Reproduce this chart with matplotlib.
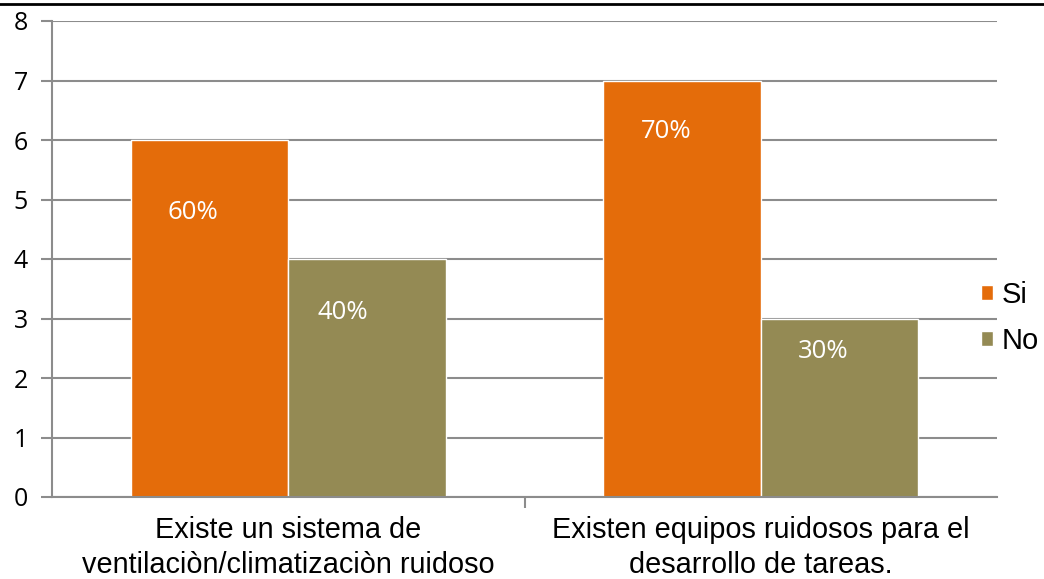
import matplotlib.pyplot as plt
from matplotlib.lines import Line2D
import numpy as np

categories = ['Existe un sistema de\nventilaciòn/climatizaciòn ruidoso',
              'Existen equipos ruidosos para el\ndesarrollo de tareas.']
si_values = [6, 7]
no_values = [4, 3]
si_labels = ['60%', '70%']
no_labels = ['40%', '30%']

# where the percentage labels sit (x offset from bar centre, y in data units)
si_label_dx = [-0.036, -0.033]
si_label_y = [4.78, 6.15]
no_label_dx = [-0.05, -0.035]
no_label_y = [3.1, 2.44]

orange = '#E46C0A'
olive = '#948A54'
grid = '#8C8C8C'

fig = plt.figure(figsize=(10.44, 5.79), dpi=100)
ax = fig.add_axes([52 / 1044, 82 / 579, 945 / 1044, 476 / 579])

x = np.arange(len(categories))
w = 0.333
ax.bar(x - w / 2, si_values, w, color=orange, edgecolor='white', linewidth=1, label='Si', zorder=2)
ax.bar(x + w / 2, no_values, w, color=olive, edgecolor='white', linewidth=1, label='No', zorder=2)

for i in range(len(categories)):
    ax.text(x[i] - w / 2 + si_label_dx[i], si_label_y[i], si_labels[i], color='white',
            ha='center', va='center', fontsize=18.5, family='Open Sans', zorder=3)
    ax.text(x[i] + w / 2 + no_label_dx[i], no_label_y[i], no_labels[i], color='white',
            ha='center', va='center', fontsize=18.5, family='Open Sans', zorder=3)

ax.set_xlim(-0.5, 1.5)
ax.set_ylim(0, 8)
ax.set_yticks(range(9))
ax.yaxis.grid(True, color=grid, linewidth=1.5, zorder=1)
ax.set_axisbelow(True)

for s in ['top', 'right']:
    ax.spines[s].set_visible(False)
for s in ['left', 'bottom']:
    ax.spines[s].set_color(grid)
    ax.spines[s].set_linewidth(1.5)

ax.set_xticks(x)
ax.set_xticklabels(categories, fontsize=20.8, family='Liberation Sans', linespacing=1.3)
ax.set_xticks([0.5], minor=True)
ax.tick_params(axis='x', which='major', length=0, pad=14)
ax.tick_params(axis='x', which='minor', length=8, width=1.5, color=grid, direction='out')
ax.tick_params(axis='y', length=8, width=1.5, color=grid, labelsize=18, pad=9.5)
for lbl in ax.get_yticklabels():
    lbl.set_family('Open Sans')

fig.legend(*ax.get_legend_handles_labels(), loc='center left',
           bbox_to_anchor=(981 / 1044, 1 - 318 / 579), frameon=False,
           prop={'family': 'Liberation Sans', 'size': 21},
           handlelength=0.4, handleheight=0.4, handletextpad=0.3, labelspacing=0.6,
           borderaxespad=0, borderpad=0)

fig.add_artist(Line2D([0, 1], [1 - 3.5 / 579, 1 - 3.5 / 579], color='black', linewidth=2))

fig.savefig('out.png', dpi=100)
